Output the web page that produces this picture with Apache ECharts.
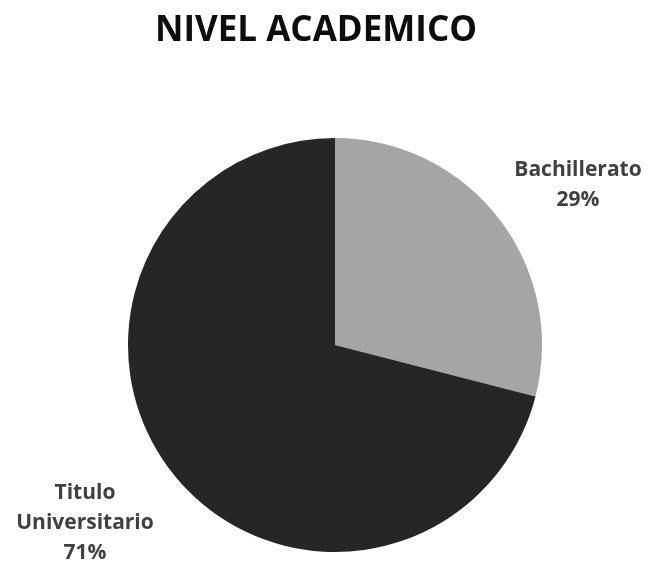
<!DOCTYPE html>
<html>
<head>
<meta charset="utf-8">
<script src="https://cdn.jsdelivr.net/npm/echarts@6/dist/echarts.min.js"></script>
<style>
  html, body { margin: 0; padding: 0; background: #ffffff; }
  #chart { width: 650px; height: 565px; }
</style>
</head>
<body>
<div id="chart"></div>
<script>
// Nivel académico: share of respondents by highest qualification
const categories = ['Bachillerato', 'Titulo Universitario'];
const values = [29, 71];
const sliceColors = ['#a5a5a5', '#262626'];

const chart = echarts.init(document.getElementById('chart'), null, { renderer: 'canvas' });

// label anchor points (centre of each text block)
const labelAnchors = [[578, 185], [85, 523]];

chart.setOption({
  backgroundColor: '#ffffff',
  animation: false,
  title: {
    text: 'NIVEL ACADEMICO',
    left: 311,
    top: 9,
    textAlign: 'center',
    textStyle: {
      fontFamily: 'Open Sans',
      fontWeight: 'bold',
      fontSize: 35,
      color: '#0d0d0d'
    }
  },
  series: [{
    type: 'pie',
    center: [335, 345],
    radius: 207,
    startAngle: 90,
    clockwise: true,
    data: categories.map((name, i) => ({
      name: name,
      value: values[i],
      itemStyle: { color: sliceColors[i] }
    })),
    itemStyle: { borderWidth: 0 },
    label: {
      show: true,
      position: 'outside',
      formatter: p => p.name.replace(' ', '\n') + '\n' + Math.round(p.percent) + '%',
      fontFamily: 'Open Sans',
      fontWeight: 'bold',
      fontSize: 21,
      lineHeight: 30,
      color: '#404040',
      align: 'center',
      overflow: 'none',
      width: 200
    },
    labelLine: { show: false },
    labelLayout: params => ({
      x: labelAnchors[params.dataIndex][0],
      y: labelAnchors[params.dataIndex][1],
      align: 'center',
      verticalAlign: 'middle',
      hideOverlap: false
    })
  }]
});
</script>
</body>
</html>
